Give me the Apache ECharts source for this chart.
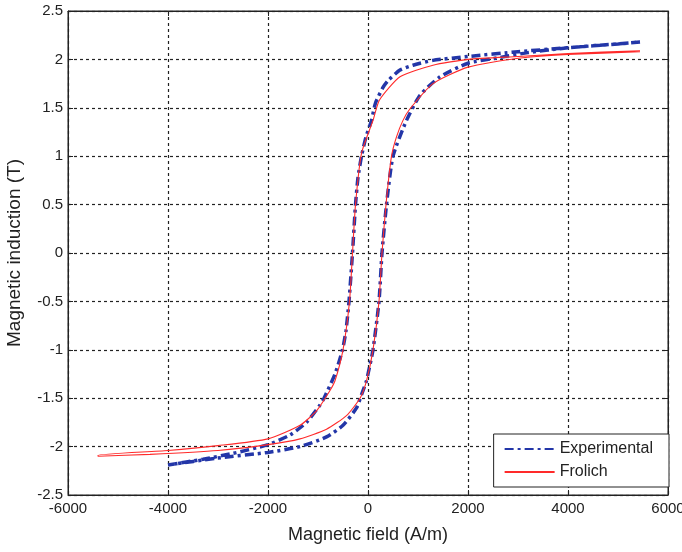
<!DOCTYPE html>
<html>
<head>
<meta charset="utf-8">
<script src="https://cdn.jsdelivr.net/npm/echarts@6/dist/echarts.min.js"></script>
<style>html,body{margin:0;padding:0;background:#fff;}#c{width:682px;height:552px;}</style>
</head>
<body>
<div id="c"></div>
<script>
// Experimental, descending branch (H high -> low)
var expDescH = [5440, 5000, 4000, 3000, 2000, 1300, 900, 640, 400, 300, 150, 70, -40, -130, -200, -250, -310, -380, -440, -510, -660, -880, -960, -1230, -1560, -2000, -2700, -3300, -4000];
var expDescB = [2.18, 2.16, 2.12, 2.08, 2.03, 1.99, 1.94, 1.89, 1.78, 1.71, 1.55, 1.37, 1.20, 1.00, 0.78, 0.50, 0.00, -0.50, -0.80, -1.00, -1.25, -1.50, -1.57, -1.75, -1.88, -1.98, -2.07, -2.13, -2.19];
// Experimental, ascending branch (H low -> high)
var expAscH = [-4000, -3030, -2000, -1360, -830, -500, -230, -120, -30, 0, 100, 220, 280, 370, 500, 770, 1040, 1440, 2000, 2640, 3200, 4000, 5000, 5440];
var expAscB = [-2.19, -2.12, -2.06, -2.00, -1.90, -1.78, -1.60, -1.45, -1.32, -1.25, -1.00, -0.50, 0.00, 0.50, 1.00, 1.37, 1.63, 1.82, 1.96, 2.02, 2.07, 2.12, 2.16, 2.18];
// Frolich model, descending branch
var froDescH = [5440, 4000, 3000, 2000, 1300, 640, 230, 100, -130, -250, -310, -370, -500, -660, -760, -1030, -1360, -2000, -3000, -4000, -5400];
var froDescB = [2.09, 2.06, 2.03, 2.00, 1.94, 1.82, 1.58, 1.37, 1.03, 0.50, 0.00, -0.50, -1.00, -1.32, -1.42, -1.63, -1.78, -1.92, -1.99, -2.04, -2.09];
// Frolich model, ascending branch
var froAscH = [-5400, -4360, -3000, -2000, -1360, -830, -430, -160, -30, 100, 220, 280, 360, 470, 570, 700, 840, 1300, 2000, 2970, 4000, 5440];
var froAscB = [-2.10, -2.08, -2.04, -1.98, -1.92, -1.82, -1.68, -1.50, -1.32, -1.00, -0.50, 0.00, 0.50, 1.00, 1.20, 1.37, 1.49, 1.75, 1.92, 2.01, 2.05, 2.08];

var xTicks = {min: -6000, max: 6000, interval: 2000};
var yTicks = {min: -2.5, max: 2.5, interval: 0.5};
var seriesNames = ['Experimental', 'Frolich'];

function pairs(h1, b1, h2, b2) {
  var out = [];
  for (var i = 0; i < h1.length; i++) out.push([h1[i], b1[i]]);
  for (var j = 0; j < h2.length; j++) out.push([h2[j], b2[j]]);
  return out;
}

var font = 'Liberation Sans, Arial, sans-serif';
var ink = '#222';
var plain = function (v) { return String(v); };
var chart = echarts.init(document.getElementById('c'), null, {renderer: 'canvas'});
var gridLine = {show: true, lineStyle: {color: '#222', type: [3, 3], width: 1.2}};
var tick = {show: true, inside: true, length: 5, lineStyle: {color: ink}};
chart.setOption({
  backgroundColor: '#fff',
  animation: false,
  grid: {left: 68, right: 14, top: 11, bottom: 57, outerBoundsMode: 'none', containLabel: false,
         show: true, borderColor: ink, borderWidth: 1, backgroundColor: 'transparent'},
  xAxis: [{
    type: 'value', min: xTicks.min, max: xTicks.max, interval: xTicks.interval,
    name: 'Magnetic field (A/m)', nameLocation: 'middle', nameGap: 31,
    nameTextStyle: {fontFamily: font, fontSize: 18, color: ink},
    axisLine: {show: true, onZero: false, lineStyle: {color: ink}},
    axisTick: tick,
    axisLabel: {fontFamily: font, fontSize: 15, color: ink, margin: 6, formatter: plain},
    splitLine: gridLine
  }, {
    type: 'value', position: 'top', min: xTicks.min, max: xTicks.max, interval: xTicks.interval,
    axisLine: {show: true, onZero: false, lineStyle: {color: ink}},
    axisTick: tick,
    axisLabel: {show: false}, splitLine: {show: false}
  }],
  yAxis: [{
    type: 'value', min: yTicks.min, max: yTicks.max, interval: yTicks.interval,
    name: 'Magnetic induction (T)', nameLocation: 'middle', nameGap: 44,
    nameTextStyle: {fontFamily: font, fontSize: 19, color: ink},
    axisLine: {show: true, onZero: false, lineStyle: {color: ink}},
    axisTick: tick,
    axisLabel: {fontFamily: font, fontSize: 15, color: ink, margin: 5, formatter: plain},
    splitLine: gridLine
  }, {
    type: 'value', position: 'right', min: yTicks.min, max: yTicks.max, interval: yTicks.interval,
    axisLine: {show: true, onZero: false, lineStyle: {color: ink}},
    axisTick: tick,
    axisLabel: {show: false}, splitLine: {show: false}
  }],
  legend: {
    orient: 'vertical', right: 13, top: 434,
    data: seriesNames,
    itemWidth: 50, itemHeight: 16, itemGap: 7,
    padding: [7, 16, 7, 10],
    borderColor: ink, borderWidth: 1, backgroundColor: '#fff',
    itemStyle: {opacity: 0},
    textStyle: {fontFamily: font, fontSize: 16, color: ink}
  },
  series: [{
    name: seriesNames[0], type: 'line', showSymbol: false, symbol: 'none', smooth: 0.2,
    data: pairs(expDescH, expDescB, expAscH, expAscB),
    lineStyle: {color: '#2336a8', width: 3.5, type: [9, 4, 3, 4], cap: 'butt'},
    itemStyle: {color: '#2336a8'}, z: 2
  }, {
    name: seriesNames[1], type: 'line', showSymbol: false, symbol: 'none', smooth: 0.2,
    data: pairs(froDescH, froDescB, froAscH, froAscB),
    lineStyle: {color: '#ff2a2a', width: 1.1, type: 'solid'},
    itemStyle: {color: '#ff2a2a'}, z: 3
  }]
});
</script>
</body>
</html>
